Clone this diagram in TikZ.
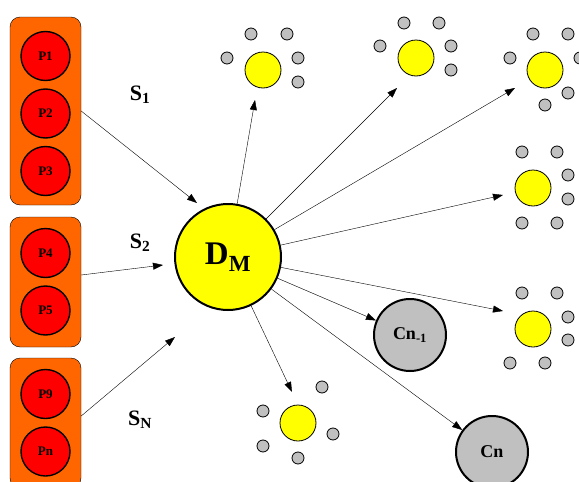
\documentclass[tikz,border=0pt]{standalone}
\usepackage{fontspec}
\setmainfont{Liberation Serif}
\usetikzlibrary{arrows.meta}

\definecolor{groupfill}{HTML}{FF6600}
\definecolor{procfill}{HTML}{FF0000}
\definecolor{sunfill}{HTML}{FFFF00}
\definecolor{dotfill}{HTML}{C0C0C0}

\begin{document}
\begin{tikzpicture}[
    x = 1pt, y = -1pt, % pixel grid, y grows downwards
    > = {Triangle[length=10pt,width=7pt]}, % arrow head style
    node distance = 57.5pt, % distance between process nodes
    thin, % line style
    group node/.style={rectangle,rounded corners=10pt,draw,fill=groupfill,minimum width=71pt},
    proc node/.style={circle,draw,line width=1.4pt,fill=procfill,minimum size=49pt,inner sep=0pt,font=\bfseries\fontsize{13}{13}\selectfont},
    main node/.style={circle,draw,line width=2pt,fill=sunfill,minimum size=106pt,inner sep=0pt,font=\bfseries\fontsize{33}{33}\selectfont},
    sun node/.style={circle,draw,line width=0.8pt,fill=sunfill,minimum size=36pt,inner sep=0pt},
    dot node/.style={circle,draw,line width=0.8pt,fill=dotfill,minimum size=12pt,inner sep=0pt},
    cluster node/.style={circle,draw,line width=2pt,fill=dotfill,minimum size=72pt,inner sep=0pt,font=\bfseries\fontsize{18}{18}\selectfont},
    label node/.style={font=\bfseries\fontsize{22}{22}\selectfont}
  ]
  \useasboundingbox (0,0) rectangle (579,482);

  % Groups of processes
  \node[group node, minimum height=188pt] (g1) at (45.5,111) {};
  \node[group node, minimum height=130pt] (g2) at (45.5,282) {};
  \node[group node, minimum height=130pt] (g3) at (45.5,423) {};

  \node[proc node] (p1) at (45.5,56) {P1};
  \node[proc node] (p2) [below of=p1] {P2};
  \node[proc node] (p3) [below of=p2] {P3};
  \node[proc node] (p4) at (45.5,253) {P4};
  \node[proc node] (p5) [below of=p4] {P5};
  \node[proc node] (p9) at (45.5,394) {P9};
  \node[proc node] (pn) [below of=p9] {Pn};

  \node[label node] (s1) at (140,95) {S\textsubscript{1}};
  \node[label node] (s2) at (140,243) {S\textsubscript{2}};
  \node[label node] (sn) at (140,420) {S\textsubscript{N}};

  % Dispatcher
  \node[main node] (dm) at (228,257) {D\textsubscript{M}};

  % Clusters
  \node[cluster node] (cn1) at (410,335) {Cn\textsubscript{-1}};
  \node[cluster node] (cn) at (492,452) {Cn};

  % Suns with their dots
  \node[sun node] (a) at (263,70) {};
  \node[sun node] (b) at (416,58) {};
  \node[sun node] (c) at (545,70) {};
  \node[sun node] (d) at (533,188) {};
  \node[sun node] (e) at (533,329) {};
  \node[sun node] (f) at (298,423) {};
  \foreach \dx/\dy [count=\i] in {-36/-12,-12/-36,24/-36,35/-12,35/12}
    \path (a) ++(\dx,\dy) node[dot node] (a\i) {};
  \foreach \dx/\dy [count=\i] in {-36/-12,-12/-35,23/-35,35/-12,35/12}
    \path (b) ++(\dx,\dy) node[dot node] (b\i) {};
  \foreach \dx/\dy [count=\i] in {-35/-12,-12/-36,23/-36,35/-12,23/23,0/35}
    \path (c) ++(\dx,\dy) node[dot node] (c\i) {};
  \foreach \dx/\dy [count=\i] in {-11/-36,24/-36,35/-13,35/11,-11/35,24/35}
    \path (d) ++(\dx,\dy) node[dot node] (d\i) {};
  \foreach \dx/\dy [count=\i] in {-11/-36,24/-36,35/-12,35/11,-23/34,12/34}
    \path (e) ++(\dx,\dy) node[dot node] (e\i) {};
  \foreach \dx/\dy [count=\i] in {-35/-12,24/-36,35/11,-35/23,0/35}
    \path (f) ++(\dx,\dy) node[dot node] (f\i) {};

  % Arrow ends
  \coordinate (t1) at (197,203);
  \coordinate (t2) at (163,265);
  \coordinate (t3) at (175,337);
  \coordinate (ta) at (255,100);
  \coordinate (tb) at (397,88);
  \coordinate (tc) at (515,88);
  \coordinate (td) at (503,195);
  \coordinate (te) at (503,311);
  \coordinate (tf) at (292,392);

  % Edges
  \path
    (g1.east) edge[->] (t1)
    ([yshift=7pt]g2.east) edge[->] (t2)
    ([yshift=7pt]g3.east) edge[->] (t3)
    (dm) edge[->] (ta)
    (dm) edge[->] (tb)
    (dm) edge[->] (tc)
    (dm) edge[->] (td)
    (dm) edge[->] (te)
    (dm) edge[->] (cn1)
    (dm) edge[->] (cn)
    (dm) edge[->] (tf);
\end{tikzpicture}
\end{document}
